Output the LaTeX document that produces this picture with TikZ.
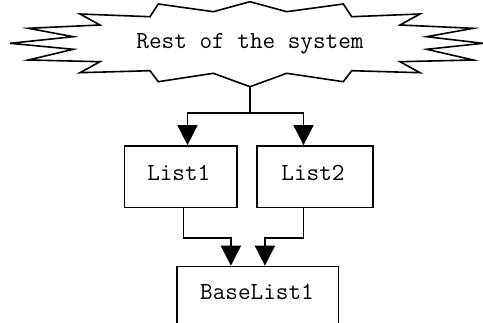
\documentclass[tikz,border=0pt]{standalone}
\usetikzlibrary{arrows.meta,calc}
\tikzset{
  outline/.style={line width=1.6pt, line join=miter, draw=black},
  box/.style={outline, rectangle, fill=white, inner sep=0pt},
  lbl/.style={font=\ttfamily\fontsize{24.5}{28}\selectfont, inner sep=0pt},
  flow/.style={line width=1.6pt, -{Triangle[length=20pt,width=20pt]}},
}
\begin{document}
\begin{tikzpicture}[x=1pt,y=-1pt]
\useasboundingbox (0,0) rectangle (483,323);
\clip (0,0) rectangle (483,323);

% jagged cloud for the rest of the system
\draw[outline] (10,43.3) -- (73.3,36.7) -- (28.3,28.3) -- (100,25) -- (80,14)
  -- (150,16.7) -- (158.3,4) -- (213.3,11.7) -- (250,1.7) -- (286.7,11.7)
  -- (343.3,4) -- (351.7,16.7) -- (420,14) -- (400,25) -- (473.3,28.3)
  -- (426.7,36.7) -- (483,43.3) -- (426.7,49.3) -- (473.3,60) -- (400,61.7)
  -- (420,72.7) -- (351.7,70.7) -- (343.3,81.7) -- (286.7,73.3) -- (250,86.7)
  -- (213.3,73.3) -- (158.3,81.7) -- (150,70.7) -- (80,72.7) -- (100,61.7)
  -- (28.3,60) -- (73.3,49.3) -- cycle;
\coordinate (sys) at (250,86.7);
\node[lbl] (systxt) at (250,44) {Rest of the system};

% boxes
\node[box, minimum width=112.4pt, minimum height=61.7pt] (l1) at (180.5,176.8) {};
\node[lbl] (l1txt) at (178.8,172.7) {List1};
\node[box, minimum width=116pt, minimum height=61.7pt] (l2) at (314.7,176.8) {};
\node[lbl] (l2txt) at (313,172.7) {List2};
\node[box, minimum width=161.6pt, minimum height=80pt, anchor=north] (base) at (257.5,265.7) {};
\node[lbl] (basetxt) at (257,291.7) {BaseList1};

% connectors
\coordinate (split) at ($(sys)+(0,26.6)$);
\draw[line width=1.6pt] (sys) -- (split);
\draw[flow] (split) -| ($(l1.north west)+(64,0)$);
\draw[flow] (split) -| ($(l2.north west)+(47.6,0)$);
\draw[flow] ($(l1.south west)+(60,0)$) |- ++(47.4,29.6) -- ($(base.north west)+(55,0)$);
\draw[flow] ($(l2.south west)+(47.6,0)$) |- ++(-38.6,29.6) -- ($(base.north west)+(89,0)$);
\end{tikzpicture}
\end{document}
